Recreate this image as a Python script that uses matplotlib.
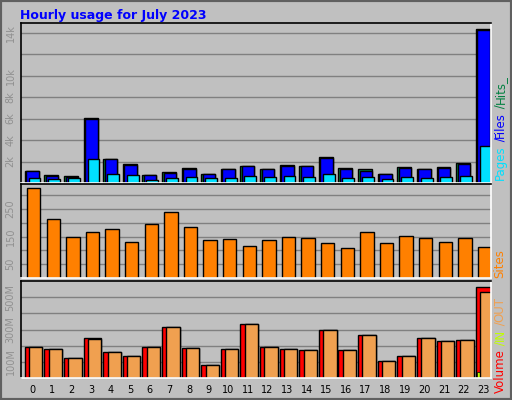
import matplotlib
matplotlib.use("Agg")
import matplotlib.pyplot as plt
from matplotlib.patches import Rectangle
import numpy as np

hours = list(range(24))
hits = [1130,755,660,6040,2200,1790,755,1040,1415,850,1260,1600,1350,1700,1600,2390,1415,1260,850,1510,1350,1510,1890,14370]
files = [1130,660,565,5950,2200,1700,755,950,1320,850,1260,1600,1350,1600,1600,2300,1320,1160,850,1415,1350,1415,1790,14280]
pages = [470,380,470,2260,850,755,280,470,565,470,470,660,565,660,565,850,470,565,380,565,470,565,660,3490]
sites = [326,215,148,167,178,130,196,237,185,137,141,115,137,148,144,126,107,167,126,152,144,130,144,111]
vol_total = [190,177,121,246,158,133,190,315,183,83,177,333,190,177,171,296,171,265,108,133,246,227,233,565]
vol_out = [190,177,121,240,158,133,190,315,183,83,177,333,190,177,171,296,171,265,108,133,246,227,233,533]
vol_in = [2,2,1,3,2,2,2,3,2,1,2,3,2,2,2,3,2,3,1,2,3,2,2,40]

W, H = 512, 400
fig = plt.figure(figsize=(W/100, H/100), dpi=100)
fig.patch.set_facecolor('#C0C0C0')
fig.add_artist(Rectangle((0, 0), 1, 1, transform=fig.transFigure, fill=False, ec='#606060', lw=3))

def ax_px(x0, y0, x1, y1):
    a = fig.add_axes([x0/W, 1-y1/H, (x1-x0)/W, (y1-y0)/H])
    a.set_facecolor('#C0C0C0')
    a.set_xlim(-0.5, 23.5)
    for s in ['top', 'left']:
        a.spines[s].set_color('black')
    for s in ['bottom', 'right']:
        a.spines[s].set_color('white')
    for s in a.spines.values():
        s.set_linewidth(1.2)
    a.tick_params(length=0, labelsize=7, colors='#909090')
    a.set_axisbelow(True)
    a.yaxis.grid(True, color='#808080', lw=1)
    return a

x = np.array(hours)
fig.text(20/W, 1-15/H, 'Hourly usage for July 2023', color='#0000FF', fontsize=9, fontweight='bold', va='center')

a1 = ax_px(20.5, 23, 491, 183)
a1.bar(x-0.28, hits, width=0.71, align='edge', color='#008040', ec='black', lw=1)
a1.bar(x-0.2, files, width=0.63, align='edge', color='#0000FF', ec='black', lw=1)
a1.bar(x-0.08, pages, width=0.6, align='edge', color='#00E0FF', ec='black', lw=1)
a1.set_ylim(0, 14900)
a1.set_yticks([2000,4000,6000,8000,10000,12000,14000])
a1.set_yticklabels(['2k','4k','6k','8k','10k','','14k'], rotation=90, va='center')
a1.set_xticks([])

a2 = ax_px(20.5, 184, 491, 278)
a2.bar(x-0.17, sites, width=0.68, align='edge', color='#FF8000', ec='black', lw=1)
a2.set_ylim(0, 340)
a2.set_yticks([50,100,150,200,250,300])
a2.set_yticklabels(['50','','150','','250',''], rotation=90, va='center')
a2.set_xticks([])

a3 = ax_px(20.5, 281, 491, 378)
a3.bar(x-0.28, vol_total, width=0.9, align='edge', color='#FF0000', ec='black', lw=1)
a3.bar(x-0.2, vol_in, width=0.12, align='edge', color='#C0FF00', ec='black', lw=0.5)
a3.bar(x-0.06, vol_out, width=0.68, align='edge', color='#F0A050', ec='black', lw=1)
a3.set_ylim(0, 600)
a3.set_yticks([100,200,300,400,500])
a3.set_yticklabels(['100M','','300M','','500M'], rotation=90, va='center')
a3.set_xticks(x+0.1)
a3.set_xticklabels([str(h) for h in hours], color='black', fontsize=7)
a3.tick_params(axis='x', pad=5)

fig.canvas.draw()
renderer = fig.canvas.get_renderer()

def rlabel(y_px, parts, fs=8.5):
    ypos = y_px
    for txt, col in parts:
        t = fig.text(500/W, 1-ypos/H, txt, rotation=90, color=col, fontsize=fs,
                     ha='center', va='bottom')
        bb = t.get_window_extent(renderer)
        ypos -= bb.height

rlabel(180, [('Pages', '#00E0FF'), (' /', '#0000FF'), ('Files', '#0000FF'), (' /', '#008040'), ('Hits_', '#008040')])
rlabel(278, [('Sites', '#FF8000')])
rlabel(393, [('Volume', '#FF0000'), (' /', '#C0FF00'), ('IN', '#C0FF00'), (' /', '#F0A050'), ('OUT', '#F0A050')])

fig.savefig('out.png', dpi=100, facecolor=fig.get_facecolor())
